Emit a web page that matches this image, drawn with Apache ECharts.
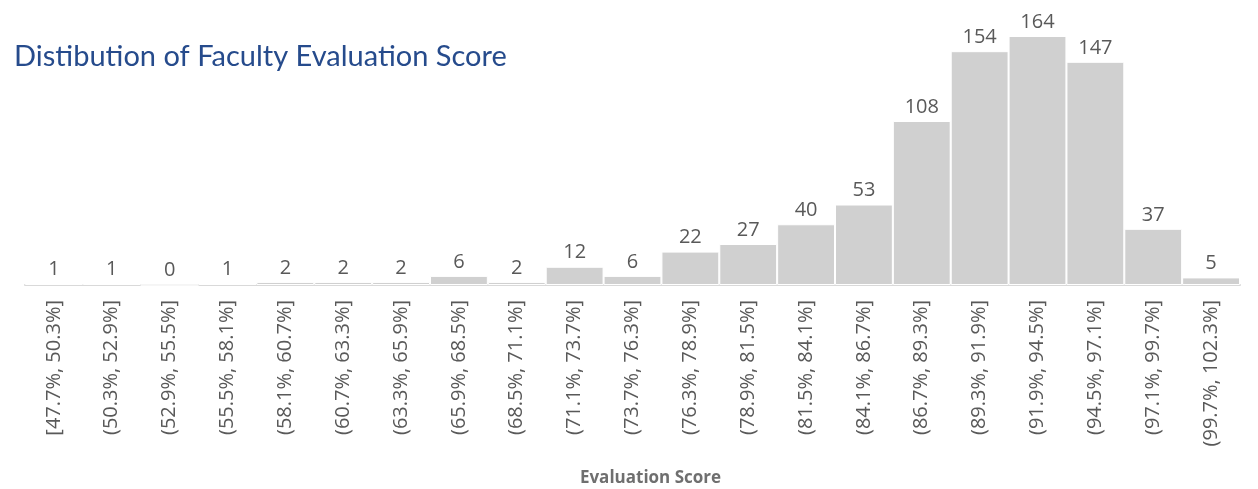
<!DOCTYPE html>
<html>
<head>
<meta charset="utf-8">
<script src="https://cdn.jsdelivr.net/npm/echarts@6/dist/echarts.min.js"></script>
<style>
  html, body { margin: 0; padding: 0; background: #fff; }
  #scoreChart { width: 1258px; height: 489px; }
</style>
</head>
<body>
<div id="scoreChart"></div>
<script>
const binLabels = [
  '[47.7%, 50.3%]', '(50.3%, 52.9%]', '(52.9%, 55.5%]', '(55.5%, 58.1%]',
  '(58.1%, 60.7%]', '(60.7%, 63.3%]', '(63.3%, 65.9%]', '(65.9%, 68.5%]',
  '(68.5%, 71.1%]', '(71.1%, 73.7%]', '(73.7%, 76.3%]', '(76.3%, 78.9%]',
  '(78.9%, 81.5%]', '(81.5%, 84.1%]', '(84.1%, 86.7%]', '(86.7%, 89.3%]',
  '(89.3%, 91.9%]', '(91.9%, 94.5%]', '(94.5%, 97.1%]', '(97.1%, 99.7%]',
  '(99.7%, 102.3%]'
]
const facultyCounts = [1, 1, 0, 1, 2, 2, 2, 6, 2, 12, 6, 22, 27, 40, 53, 108, 154, 164, 147, 37, 5]

const initScoreChart = () => {
  const scoreChart = echarts.init(document.getElementById('scoreChart'))
  const scoreOption = {
    animation: false,
    title: {
      text: 'Distibution of Faculty Evaluation Score',
      left: 9,
      top: 37,
      textStyle: {
        fontFamily: 'Lato',
        fontWeight: 'normal',
        fontSize: 29,
        color: '#264b8c'
      }
    },
    grid: {
      left: 25,
      right: 18,
      top: 36,
      bottom: 204,
      containLabel: false,
      outerBoundsMode: 'none'
    },
    xAxis: {
      type: 'category',
      data: binLabels,
      name: 'Evaluation Score',
      nameLocation: 'middle',
      nameGap: 185,
      nameTextStyle: {
        fontFamily: 'Open Sans',
        fontWeight: 'bold',
        fontSize: 17,
        color: '#6f6f6f',
        padding: [0, 0, 0, 36]
      },
      axisLine: {
        lineStyle: { color: '#d9d9d9', width: 2 }
      },
      axisTick: {
        length: 6,
        lineStyle: { color: '#d9d9d9', width: 2 }
      },
      axisLabel: {
        rotate: 90,
        interval: 0,
        margin: 15,
        fontFamily: 'Open Sans',
        fontSize: 20,
        color: '#595959'
      }
    },
    yAxis: {
      type: 'value',
      min: 0,
      max: 164,
      show: false,
      splitLine: { show: false }
    },
    series: [
      {
        type: 'bar',
        data: facultyCounts,
        barCategoryGap: 0,
        itemStyle: {
          color: '#d0d0d0',
          borderColor: '#ffffff',
          borderWidth: 1
        },
        label: {
          show: true,
          position: 'top',
          distance: 4,
          fontFamily: 'Open Sans',
          fontSize: 20,
          color: '#595959'
        }
      }
    ]
  }
  scoreChart.setOption(scoreOption)
}

initScoreChart()
</script>
</body>
</html>
